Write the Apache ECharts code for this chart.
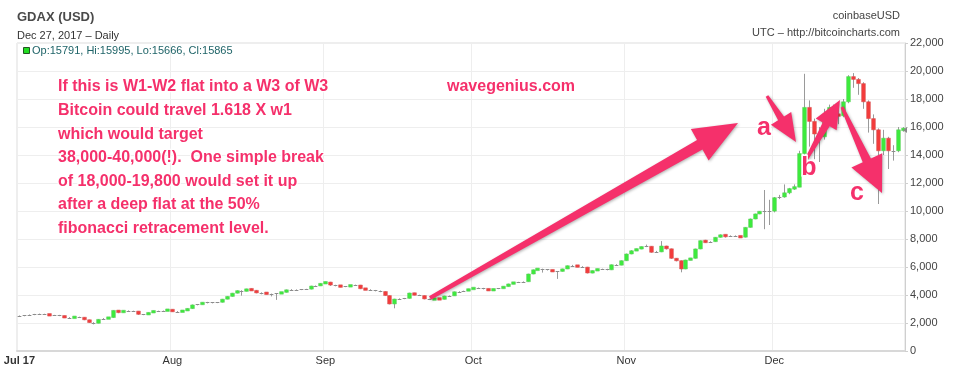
<!DOCTYPE html>
<html>
<head>
<meta charset="utf-8">
<script src="https://cdn.jsdelivr.net/npm/echarts@6/dist/echarts.min.js"></script>
<style>
html,body{margin:0;padding:0;background:#fff;}
#c{width:960px;height:370px;}
</style>
</head>
<body>
<div id="c"></div>
<script>
// Daily candles [open, close, low, high], GDAX BTC/USD, Jul 1 – Dec 27, 2017
const jul = [
 [2490,2500,2450,2540],[2500,2540,2480,2570],[2540,2580,2520,2610],[2580,2620,2560,2650],
 [2620,2640,2580,2670],[2640,2630,2600,2660],[2630,2540,2500,2650],[2540,2560,2510,2580],
 [2560,2510,2490,2580],[2510,2380,2350,2530],[2380,2370,2300,2420],[2370,2440,2340,2460],
 [2440,2410,2360,2450],[2410,2230,2200,2420],[2230,2030,2000,2240],[2030,1980,1900,2060],
 [1980,2260,1970,2280],[2260,2310,2240,2350],[2310,2390,2290,2420],[2390,2900,2370,2920],
 [2900,2760,2700,2920],[2760,2880,2740,2900],[2880,2870,2820,2900],[2870,2850,2820,2880],
 [2850,2620,2580,2860],[2620,2590,2560,2640],[2590,2740,2580,2760],[2740,2870,2720,2890],
 [2870,2840,2800,2880],[2840,2870,2800,2890],[2870,2960,2850,2990]
];
const aug = [
 [2960,2820,2790,2980],[2820,2810,2760,2850],[2810,2870,2800,2890],[2870,3030,2860,3060],
 [3030,3290,3010,3320],[3290,3330,3260,3350],[3330,3460,3310,3480],[3460,3470,3400,3510],
 [3470,3450,3400,3500],[3450,3480,3420,3500],[3480,3700,3460,3720],[3700,3900,3690,3920],
 [3900,4130,3880,4150],[4130,4310,4110,4340],[4310,4270,3950,4340],[4270,4430,4250,4450],
 [4430,4330,4300,4480],[4330,4150,4120,4360],[4150,4170,4050,4190],[4170,4070,4040,4190],
 [4070,4060,3900,4100],[4060,4110,3650,4130],[4110,4190,4090,4220],[4190,4370,4170,4390],
 [4370,4380,4340,4420],[4380,4370,4340,4400],[4370,4400,4350,4420],[4400,4420,4370,4440],
 [4420,4640,4400,4660],[4640,4650,4600,4680],[4650,4830,4640,4850]
];
const sep = [
 [4830,4920,4810,4960],[4920,4710,4650,4940],[4710,4690,4620,4730],[4690,4580,4550,4700],
 [4580,4610,4560,4640],[4610,4700,4600,4720],[4700,4710,4660,4740],[4710,4450,4420,4720],
 [4450,4390,4350,4470],[4390,4340,4300,4410],[4340,4300,4260,4360],[4300,4250,4200,4320],
 [4250,3960,3930,4270],[3960,3360,3330,3980],[3360,3710,3050,3730],[3710,3720,3650,3760],
 [3720,3760,3700,3790],[3760,4140,3740,4160],[4140,4000,3970,4160],[4000,3960,3930,4020],
 [3960,3720,3690,3980],[3720,3670,3640,3740],[3670,3750,3650,3770],[3750,3690,3670,3770],
 [3690,3930,3680,3950],[3930,3940,3900,3970],[3940,4230,3930,4250],[4230,4240,4200,4270],
 [4240,4290,4220,4310],[4290,4430,4280,4450]
];
const oct = [
 [4430,4500,4420,4520],[4500,4490,4460,4530],[4490,4440,4400,4510],[4440,4320,4300,4460],
 [4320,4430,4310,4450],[4430,4480,4420,4500],[4480,4600,4470,4620],[4600,4790,4590,4810],
 [4790,4910,4770,4930],[4910,4900,4860,4940],[4900,4950,4880,4970],[4950,5500,4940,5520],
 [5500,5800,5480,5820],[5800,5860,5780,5880],[5860,5830,5600,5880],[5830,5790,5750,5850],
 [5790,5680,5650,5810],[5680,5690,5150,5710],[5690,5860,5670,5880],[5860,6090,5850,6110],
 [6090,6100,6000,6150],[6100,6030,5980,6120],[6030,5990,5950,6060],[5990,5570,5540,6010],
 [5570,5740,5550,5760],[5740,5860,5720,5880],[5860,5850,5800,5880],[5850,5800,5760,5870],
 [5800,6160,5780,6180],[6160,6130,6090,6200],[6130,6450,6120,6470]
];
const nov = [
 [6450,6930,6430,6960],[6930,7160,6910,7200],[7160,7290,7140,7320],[7290,7450,7270,7470],
 [7450,7480,7420,7600],[7480,7050,7020,7500],[7050,7080,7000,7150],[7080,7500,7060,7850],
 [7500,7300,7250,7520],[7300,6620,6580,7320],[6620,6450,6400,6640],[6450,5860,5620,6470],
 [5860,6500,5840,6520],[6500,6620,6480,6650],[6620,7290,6600,7310],[7290,7880,7270,7900],
 [7880,7770,7720,7940],[7770,7810,7740,7840],[7810,8120,7790,8140],[8120,8300,8100,8330],
 [8300,8190,8100,8330],[8190,8240,8170,8260],[8240,8200,8150,8260],[8200,8130,8100,8230],
 [8130,8830,8110,8850],[8830,9430,8810,9460],[9430,9790,9410,9810],[9790,9980,9770,10000],
 [9980,10000,8700,11500],[10000,9990,9000,10800]
];
const dec = [
 [9990,10950,9900,11000],[10950,11000,10850,11150],[11000,11300,10950,11900],[11300,11600,11200,11650],
 [11600,11700,11500,11900],[11700,14100,11700,14300],[14100,17400,13900,19800],[17400,16400,14600,17900],
 [16400,15500,13700,16600],[15500,15300,13500,16000],[15300,16800,15100,17300],[16800,17400,16600,17600],
 [17400,16900,16200,17600],[16900,16800,16200,17300],[16800,17800,16700,18000],[17800,19600,17700,19700],
 [19600,19400,18800,19850],[19400,19100,18300,19500],[19100,17800,17300,19200],[17800,16600,15600,17900],
 [16600,15800,14800,16900],[15800,14300,10500,15900],[14300,15200,14000,15800],[15200,14300,13000,15300],
 [14300,14300,13600,14700],[14300,15800,14200,16000],[15791,15865,15666,15995]
];
const months = [jul, aug, sep, oct, nov, dec];
const startDate = '2017-07-01';
const yTicks = {min: 0, max: 22000, interval: 2000};
const monthNames = ['Jan','Feb','Mar','Apr','May','Jun','Jul','Aug','Sep','Oct','Nov','Dec'];
const noteLines = [
 'If this is W1-W2 flat into a W3 of W3',
 'Bitcoin could travel 1.618 X w1',
 'which would target',
 '38,000-40,000(!).  One simple break',
 'of 18,000-19,800 would set it up',
 'after a deep flat at the 50%',
 'fibonacci retracement level.'
];

// build categories and rows
const candles = [].concat(...months);
const cats = [];
{
  const d0 = new Date(startDate + 'T00:00:00Z');
  for (let i = 0; i < candles.length; i++) {
    const d = new Date(d0.getTime() + i * 86400000);
    cats.push(d.toISOString().slice(0, 10));
  }
}
const rows = candles.map((c, i) => [i, c[0], c[1], c[2], c[3]]);

const GREEN = '#3cec3c', RED = '#f43b3b', WICK = '#9a9a9a', PINK = '#f5306b';

function renderCandle(params, api) {
  const i = api.value(0), o = api.value(1), c = api.value(2), l = api.value(3), h = api.value(4);
  const pO = api.coord([i, o]), pC = api.coord([i, c]);
  const pL = api.coord([i, l]), pH = api.coord([i, h]);
  const w = Math.max(2, api.size([1, 0])[0] * 0.75);
  const x = Math.round(pO[0]) + 0.5;
  let top = Math.min(pO[1], pC[1]), bot = Math.max(pO[1], pC[1]);
  const children = [{
    type: 'line', shape: {x1: x, y1: pH[1], x2: x, y2: pL[1]},
    style: {stroke: WICK, lineWidth: 1}
  }];
  if (Math.abs(c - o) < 60) {
    const yy = Math.round(top) + 0.5;
    children.push({type: 'line', shape: {x1: x - w / 2, y1: yy, x2: x + w / 2, y2: yy},
      style: {stroke: '#8c8c8c', lineWidth: 1}});
  } else {
    if (bot - top < 2.5) { const m = (top + bot) / 2; top = m - 1.25; bot = m + 1.25; }
    children.push({type: 'rect', shape: {x: x - w / 2, y: top, width: w, height: bot - top},
      style: {fill: c >= o ? GREEN : RED, stroke: c >= o ? '#5fcf5f' : '#d85858', lineWidth: 0.6}});
  }
  return {type: 'group', children};
}

function arrow(x1, y1, x2, y2, w1, w2, hw, hl) {
  const dx = x2 - x1, dy = y2 - y1, L = Math.hypot(dx, dy);
  const ux = dx / L, uy = dy / L, nx = -uy, ny = ux;
  const bx = x2 - ux * hl, by = y2 - uy * hl;
  return [
    [x1 + nx * w1 / 2, y1 + ny * w1 / 2],
    [bx + nx * w2 / 2, by + ny * w2 / 2],
    [bx + nx * hw / 2, by + ny * hw / 2],
    [x2, y2],
    [bx - nx * hw / 2, by - ny * hw / 2],
    [bx - nx * w2 / 2, by - ny * w2 / 2],
    [x1 - nx * w1 / 2, y1 - ny * w1 / 2]
  ];
}

const FONT = '"Liberation Sans", Arial, sans-serif';
const graphics = [
  {type: 'text', left: 17, top: 11, style: {text: 'GDAX (USD)', font: 'bold 13px ' + FONT, fill: '#4a4a4a'}},
  {type: 'text', left: 17, top: 30, style: {text: 'Dec 27, 2017 \u2013 Daily', font: '11px ' + FONT, fill: '#333'}},
  {type: 'rect', shape: {x: 23.5, y: 47.5, width: 6, height: 6}, style: {fill: '#22dd22', stroke: '#225522', lineWidth: 1}},
  {type: 'text', left: 32, top: 45, style: {text: 'Op:15791, Hi:15995, Lo:15666, Cl:15865', font: '11px ' + FONT, fill: '#1f6468'}},
  {type: 'text', right: 60, top: 10, style: {text: 'coinbaseUSD', font: '11px ' + FONT, fill: '#444', textAlign: 'right'}},
  {type: 'text', right: 60, top: 27, style: {text: 'UTC \u2013 http://bitcoincharts.com', font: '11px ' + FONT, fill: '#444', textAlign: 'right'}},
  {type: 'polygon', shape: {points: [[903, 130], [907, 127], [907, 133]]}, style: {fill: '#888'}}
];
const textFx = {stroke: '#fff', lineWidth: 2.5, shadowBlur: 2, shadowColor: 'rgba(0,0,0,0.3)', shadowOffsetX: 1, shadowOffsetY: 1};
noteLines.forEach((t, k) => {
  graphics.push({type: 'text', x: 58, y: 87 + k * 23.6, style: Object.assign({
    text: t, font: 'bold 16px ' + FONT, fill: PINK, textVerticalAlign: 'middle'}, textFx)});
});
graphics.push({type: 'text', x: 447, y: 87, style: Object.assign({
  text: 'wavegenius.com', font: 'bold 16px ' + FONT, fill: PINK, textVerticalAlign: 'middle'}, textFx)});
const arrows = [
  arrow(430, 298, 738, 123, 4, 11, 36, 44),
  arrow(767, 96, 796, 142, 3, 7, 24, 28),
  arrow(806, 160, 840, 100, 3, 8, 24, 28),
  arrow(842, 107, 882, 193, 3, 9, 34, 36)
];
arrows.forEach(p => graphics.push({type: 'polygon', shape: {points: p},
  style: {fill: PINK, shadowBlur: 3, shadowColor: 'rgba(0,0,0,0.3)', shadowOffsetX: 1, shadowOffsetY: 1}}));
[['a', 764, 128], ['b', 809, 168], ['c', 857, 193]].forEach(([t, x, y]) => graphics.push({
  type: 'text', x, y, style: {text: t, font: 'bold 25px ' + FONT, fill: PINK, textAlign: 'center', textVerticalAlign: 'middle',
  stroke: '#fff', lineWidth: 3, shadowBlur: 3, shadowColor: 'rgba(0,0,0,0.35)', shadowOffsetX: 1, shadowOffsetY: 1}}));
graphics.forEach(g => { g.z = 100; });

const isMonthStart = (idx, val) => val.slice(8) === '01';

const chart = echarts.init(document.getElementById('c'), null, {renderer: 'canvas'});
chart.setOption({
  animation: false,
  backgroundColor: '#fff',
  grid: {left: 17, right: 55, top: 43, bottom: 19, show: true, borderColor: '#dcdcdc', borderWidth: 1},
  xAxis: {
    type: 'category', data: cats, boundaryGap: true,
    axisLine: {show: true, lineStyle: {color: '#d8d8d8', width: 2}},
    axisTick: {show: false},
    splitLine: {show: true, interval: isMonthStart, lineStyle: {color: '#eeeeee'}},
    axisLabel: {
      interval: isMonthStart, margin: 4, color: '#333', fontSize: 11, fontFamily: FONT,
      formatter: v => {
        const m = +v.slice(5, 7) - 1;
        if (m === 6) return '{b|Jul 17}';
        return monthNames[m];
      },
      rich: {b: {fontWeight: 'bold', fontSize: 11, color: '#333', fontFamily: FONT}}
    }
  },
  yAxis: {
    type: 'value', position: 'right', min: yTicks.min, max: yTicks.max, interval: yTicks.interval,
    axisLine: {show: true, lineStyle: {color: '#cfcfcf'}},
    axisTick: {show: true, length: 3, lineStyle: {color: '#cfcfcf'}},
    splitLine: {show: true, lineStyle: {color: '#eeeeee'}},
    axisLabel: {margin: 5, color: '#444', fontSize: 11, fontFamily: FONT}
  },
  series: [{
    type: 'custom', renderItem: renderCandle, data: rows,
    encode: {x: 0, y: [1, 2, 3, 4]}, clip: true
  }],
  graphic: graphics
});
</script>
</body>
</html>
